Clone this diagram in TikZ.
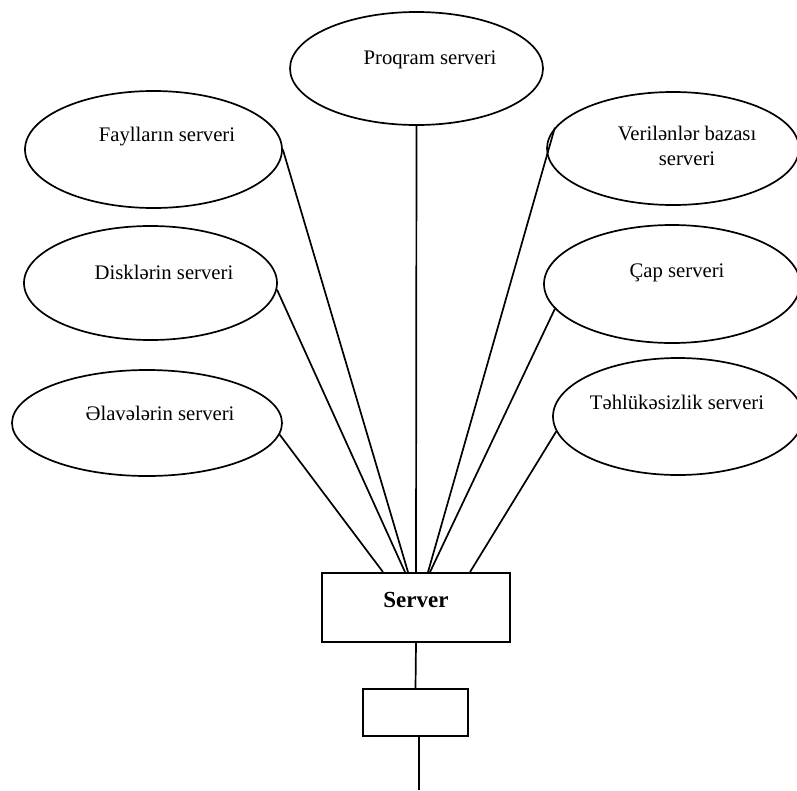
\documentclass[tikz,border=0pt]{standalone}
\usepackage{fontspec}
\setmainfont{Liberation Serif}
\usetikzlibrary{shapes.geometric,calc}
\tikzset{
  srv/.style={draw,ellipse,line width=1.7pt,inner sep=0pt},
  lbl/.style={font=\fontsize{20.7}{25}\selectfont,inner sep=0pt,align=center},
  conn/.style={line width=1.7pt},
  boxn/.style={draw,rectangle,line width=1.9pt,inner sep=0pt}
}
\begin{document}
\begin{tikzpicture}[x=1pt,y=-1pt]
\useasboundingbox (0,0) rectangle (797,790);
% ellipses
\node[srv,minimum width=253pt,minimum height=113pt] (p) at (416.5,68.5) {};
\node[lbl] (pl) at (430,60) {Proqram serveri};
\node[srv,minimum width=257pt,minimum height=117pt] (f) at (153.5,149.5) {};
\node[lbl] (fl) at (167,137) {Faylların serveri};
\node[srv,minimum width=252pt,minimum height=113pt] (v) at (673,148.5) {};
\node[lbl] (vl) at (687,145.5) {Verilənlər bazası\\serveri};
\node[srv,minimum width=253pt,minimum height=114pt] (d) at (150.5,283) {};
\node[lbl] (dl) at (164,272) {Disklərin serveri};
\node[srv,minimum width=256pt,minimum height=118pt] (c) at (672,284) {};
\node[lbl] (cl) at (677,273) {Çap serveri};
\node[srv,minimum width=270pt,minimum height=106pt] (a) at (147,423) {};
\node[lbl] (al) at (160,413) {Əlavələrin serveri};
\node[srv,minimum width=250pt,minimum height=117pt] (t) at (678,416.5) {};
\node[lbl] (tl) at (677,402) {Təhlükəsizlik serveri};
% server box
\node[boxn,minimum width=188pt,minimum height=69pt] (s) at (416,607.5) {};
\node[font=\fontsize{23}{27}\selectfont\bfseries,inner sep=0pt] (sl) at (416,600) {Server};
\node[boxn,minimum width=105pt,minimum height=47pt] (b) at (415.5,712.5) {};
\coordinate (end) at (419,790);
% connectors
\draw[conn] (p.south) -- (s.north);
\draw[conn] (f.east) -- ($(s.north)+(-8,0)$);
\draw[conn] (d.-3) -- ($(s.north)+(-11,0)$);
\draw[conn] (a.-5) -- ($(s.north)+(-33,0)$);
\draw[conn] (v.170) -- ($(s.north)+(12,0)$);
\draw[conn] (c.192) -- ($(s.north)+(14,0)$);
\draw[conn] (t.187) -- ($(s.north)+(54,0)$);
\draw[conn] (s.south) -- (b.north);
\draw[conn] ($(b.south)+(3.5,0)$) -- (end);
\end{tikzpicture}
\end{document}
